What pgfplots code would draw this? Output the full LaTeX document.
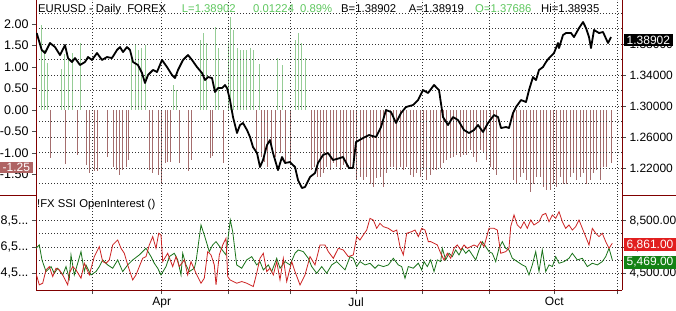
\documentclass[border=0pt]{standalone}
\usepackage{fontspec}
\setmainfont{Liberation Sans}
\usepackage{pgfplots}
\pgfplotsset{compat=1.18}
\definecolor{brd}{RGB}{128,0,0}
\definecolor{gbar}{RGB}{150,205,150}
\definecolor{rbar}{RGB}{165,110,110}
\definecolor{lred}{RGB}{205,35,35}
\definecolor{lgreen}{RGB}{25,115,25}
\definecolor{tgreen}{RGB}{95,200,95}
\definecolor{boxbrown}{RGB}{175,100,100}
\definecolor{boxred}{RGB}{225,30,30}
\definecolor{boxgreen}{RGB}{20,130,20}
\tikzset{gridl/.style={black!80, line width=0.8pt, dash pattern=on 0.8pt off 2.2pt}}
\newcommand{\tdots}{.{}.{}.}
\pgfplotsset{
  base/.style={scale only axis, width=586pt, xmin=36, xmax=622, anchor=south west,
    tick align=outside, major tick length=4pt, minor tick length=0pt,
    tick style={black!70, line width=0.6pt},
    ticklabel style={font=\fontsize{12}{14}\selectfont},
    /pgf/number format/assume math mode=true,
    scaled ticks=false}
}
\begin{document}
\begin{tikzpicture}
\path[use as bounding box, fill=white] (0pt,0pt) rectangle (676pt,310pt);

% ---- SSI bars (left scale) ----
\begin{axis}[base, at={(36pt,115pt)}, height=195pt,
  ymin=-1.977, ymax=2.558,
  axis line style={draw=none}, xtick=\empty,
  ytick={-1.5,-1,-0.5,0,0.5,1,1.5,2}, ytick pos=left,
  yticklabel style={font=\fontsize{12.5}{14}\selectfont,
    /pgf/number format/fixed, /pgf/number format/fixed zerofill, /pgf/number format/precision=2}]
\addplot[ycomb, gbar, line width=1pt] coordinates {
(37,1.78) (41.5,1.98) (44.5,1.40) (47.5,1.10) (61,0.95) (64,1.30) (68,1.20) (72.5,1.32) (80.5,1.55)
(131.7,1.20) (135,1.50) (138.3,1.40) (141.7,1.45) (145,1.50) (173.5,0.58) (176.7,0.47)
(200,1.63) (203.3,1.78) (206.7,1.55) (215.7,1.94) (218.5,1.45) (228.3,1.55) (230.7,2.17) (233.5,1.86)
(237,1.45) (240,1.40) (243.3,1.40) (246.7,1.40) (250,1.45) (253.3,1.40) (259.5,1.08) (277.5,1.20)
(282.3,1.05) (295.3,1.63) (298.3,1.78) (301.7,1.55) (305,1.20)};
\addplot[ycomb, rbar, line width=1pt] coordinates {
(50.5,-1.12) (65,-1.25) (77.3,-1.05) (86.7,-1.28) (89.3,-1.47) (94,-1.43) (97.5,-1.43) (107.3,-1.09)
(113.3,-1.32) (116,-1.40) (119.3,-1.51) (122.7,-1.40) (126,-1.32) (128.7,-1.16) (149.3,-1.40)
(152.7,-1.47) (158.3,-1.51) (161.7,-1.71) (165,-1.24) (167.3,-1.20) (170,-1.20) (179,-1.24)
(188.3,-1.43) (191,-1.16) (210,-1.12) (212.3,-1.08) (223.5,-1.24) (256.7,-0.93) (261,-1.09)
(264.3,-1.20) (267.7,-1.32) (271.7,-0.85) (275,-1.09) (280.5,-1.00) (285,-1.24) (290,-1.24)
(311,-1.40) (314.3,-1.32) (317.3,-1.55)
(320,-1.55) (323.3,-1.47) (326.7,-1.32) (330,-1.40) (333.3,-1.24) (336.7,-1.32) (340,-1.40)
(343.3,-1.28) (346.7,-1.32) (350,-1.32) (353.3,-1.32) (356.7,-1.63) (360,-1.55) (363.3,-1.63)
(366.7,-1.55) (370,-1.71) (373.3,-1.78) (376.7,-1.59) (380,-1.55) (383.3,-1.78) (386.7,-1.47)
(390,-1.32) (393.3,-1.32) (396.7,-1.40) (400,-1.32) (403.3,-1.40) (406.7,-1.32) (410,-1.51)
(413.3,-1.55) (416.7,-1.47) (420,-1.55) (423.3,-1.40) (426.7,-1.63) (430,-1.51) (433.3,-1.40)
(436.7,-1.40) (440,-1.36) (443.3,-1.24) (446.7,-1.16) (450,-1.12) (453.3,-1.09) (456.7,-1.05)
(460,-1.09) (463.3,-1.05) (466.7,-1.05) (470,-0.93) (473.3,-1.09) (476.7,-1.20) (480,-0.93)
(483.3,-1.00) (486.7,-1.16) (490,-1.32) (493.3,-1.40) (496.7,-1.51) (513.3,-1.63) (516.7,-1.71)
(520,-1.55) (523.3,-1.47) (526.7,-1.63) (530,-1.90) (533.3,-1.71) (536.7,-1.55) (540,-1.55)
(543.3,-1.78) (546.7,-1.86) (550,-1.86) (553.3,-1.71) (556.7,-1.78) (560,-1.55) (563.3,-1.71)
(566.7,-1.71) (570,-1.55) (573.3,-1.47) (576.7,-1.63) (580,-1.55) (583.3,-1.47) (586.7,-1.71)
(590,-1.63) (593.3,-1.47) (596.7,-1.40) (600,-1.63) (603.3,-1.32) (606.7,-1.32) (611.7,-1.24)};
\end{axis}

% ---- price (right scale) ----
\begin{axis}[base, at={(36pt,115pt)}, height=195pt,
  ymin=1.1852, ymax=1.4368,
  separate axis lines, x axis line style={draw=none}, y axis line style={brd, line width=0.9pt},
  xtick=\empty,
  ytick={1.22,1.26,1.30,1.34,1.38}, minor ytick={1.20,1.24,1.28,1.32,1.36,1.40,1.42},
  ytick pos=right, yticklabel pos=right,
  ymajorgrids, yminorgrids, major grid style={gridl}, minor grid style={gridl},
  yticklabel style={/pgf/number format/fixed, /pgf/number format/fixed zerofill, /pgf/number format/precision=5}]
\pgfplotsinvokeforeach{92.7,161.7,228.3,290,356,422.7,489.3,554.3,617.7}{
  \draw[gridl] (axis cs:#1,1.1852) -- (axis cs:#1,1.4368);
}
\addplot[black, line width=1.8pt, line join=round] coordinates {
(36.7,1.3942) (41.7,1.3723) (45,1.3684) (50,1.3813) (55,1.3761) (60,1.3658) (65,1.3787) (68,1.3619)
(72,1.3568) (75,1.3619) (80,1.3529) (85,1.3568) (88,1.3632) (92,1.3594) (97,1.3684) (102,1.3594)
(107,1.3632) (112,1.3619) (117,1.3723) (120,1.3761) (123,1.3697) (127,1.3761) (130,1.3723)
(133,1.3568) (138,1.3529) (142,1.3426) (145,1.3297) (148,1.3400) (153,1.3465) (157,1.3439)
(162,1.3594) (167,1.3503) (172,1.3400) (175,1.3361) (178,1.3465) (183,1.3594) (188,1.3658)
(192,1.3594) (197,1.3503) (202,1.3426) (205,1.3335) (208,1.3374) (212,1.3361) (215,1.3181)
(218,1.3232) (222,1.3232) (225,1.3271) (227,1.3232) (230,1.3077) (233,1.2858) (237,1.2652)
(240,1.2755) (243,1.2781) (247,1.2690) (250,1.2600) (253,1.2471) (257,1.2394) (260,1.2213)
(263,1.2303) (267,1.2497) (270,1.2561) (273,1.2394) (278,1.2174) (282,1.2342) (285,1.2265)
(290,1.2277) (295,1.2213) (298,1.2045) (302,1.1942) (305,1.1955) (310,1.2084) (315,1.2135)
(318,1.2265) (323,1.2368) (328,1.2394) (333,1.2303) (340,1.2329) (343,1.2342) (349,1.2200)
(353,1.2200) (356,1.2535) (363,1.2587) (369,1.2626) (376,1.2600) (381,1.2729) (386,1.2948)
(391,1.2923) (396,1.2781) (401,1.2910) (406,1.2987) (413,1.3013) (418,1.3077) (423,1.3206)
(428,1.3168) (434,1.3271) (439,1.3206) (443,1.2858) (448,1.2755) (453,1.2858) (458,1.2819)
(464,1.2690) (469,1.2652) (474,1.2690) (478,1.2755) (483,1.2665) (488,1.2781) (494,1.2884)
(498,1.2858) (501,1.2716) (506,1.2729) (509,1.2716) (513,1.2910) (516,1.2987) (521,1.3077)
(526,1.3052) (529,1.3206) (533,1.3374) (536,1.3335) (539,1.3465) (543,1.3503) (546,1.3568)
(549,1.3619) (554,1.3684) (558,1.3813) (559,1.3748) (563,1.3916) (566,1.3942) (571,1.3942)
(574,1.3890) (579,1.4006) (583,1.4084) (586,1.4006) (589,1.3890) (591,1.3748) (594,1.3981)
(599,1.3942) (603,1.3955) (608,1.3813) (611,1.3890)};
\end{axis}

% ---- open interest, left labels ----
\begin{axis}[base, at={(36pt,20pt)}, height=95pt,
  ymin=3230, ymax=10454,
  axis line style={draw=none}, xtick=\empty,
  ytick={4500,6500,8500}, yticklabels={{4,5\tdots},{6,5\tdots},{8,5\tdots}}, ytick pos=left,
  yticklabel style={font=\fontsize{12.5}{14}\selectfont}]
\addplot[draw=none] coordinates {(36,5000)};
\end{axis}

% ---- open interest ----
\begin{axis}[base, at={(36pt,20pt)}, height=95pt,
  ymin=3230, ymax=10454,
  axis x line*=bottom, axis y line*=box, axis line style={brd, line width=0.9pt},
  xtick={92.7,161.7,228.3,290,356,422.7,489.3,554.3,617.7},
  xticklabels={,Apr,,,Jul,,,Oct,}, xmajorgrids,
  ytick={4500,6500,8500}, minor ytick={5500,7500},
  ytick pos=right, yticklabel pos=right,
  ymajorgrids, yminorgrids, major grid style={gridl}, minor grid style={gridl},
  yticklabel style={/pgf/number format/fixed, /pgf/number format/fixed zerofill,
    /pgf/number format/precision=2, /pgf/number format/1000 sep={,}}]
\addplot[lgreen, line width=0.8pt] coordinates {
(36,6402) (39.3,6655) (42,5517) (46,4631) (51,5011) (54.3,4505) (57.7,4884) (62.7,4378) (66,5011)
(69.3,4100) (71,5896) (74.3,4378) (77.7,5264) (81,6149) (84.3,4631) (86,5137) (91,4378) (96,4631)
(99.3,5011) (102.7,5517) (107.7,5137) (112.7,4884) (117.7,5517) (122.7,4631) (127.7,5137)
(132.7,5517) (139.3,5896) (146,6402) (151,5770) (154.3,5264) (157.7,4884) (161,4378) (166,5011)
(169.3,5770) (174.3,6023) (177.7,5517) (181,4378) (182.7,6023) (186,5137) (189.3,4631) (194.3,4884)
(196,5390) (201,8173) (204.3,7414) (209.3,6149) (212.7,6655) (216,6908) (221,6402) (226,5896)
(230.3,8553) (232.7,7667) (236.7,5137) (241.7,4884) (246.7,5517) (251.7,5770) (256.7,5137)
(260,5390) (263.3,4757) (268.3,5137) (271.7,4631) (276.7,5643) (280,4884) (285,5390) (290,5137)
(295,6023) (298.3,6275) (303.3,6149) (308.3,5643) (311.7,5011) (316.7,4505) (321.7,5011)
(326.7,4505) (331.7,5137) (336.7,5390) (340,5137) (345,4757) (350,5770) (353.3,5643) (356.7,5011)
(360,5390) (365,5137) (370,5264) (375,4884) (378.3,5137) (383.3,5011) (388.3,5137) (393.3,5643)
(398.3,5137) (401.7,5011) (405,4125) (408.3,5011) (413.3,4884) (418.3,5264) (421.7,4757)
(424,5390) (427.3,5011) (430.7,5517) (434,4631) (437.3,5517) (440.7,5390) (442.3,6402) (445.7,5517)
(449,6023) (452.3,5770) (455.7,6275) (459,5896) (462.3,6402) (465.7,6023) (469,6275) (472.3,5896)
(475.7,5517) (479,6275) (482.3,6908) (485.7,6529) (489,6149) (492.3,6023) (495.7,5390) (499,6402)
(502.3,6908) (505.7,6402) (509,6275) (512.3,5643) (517.3,5390) (522.3,5137) (525.7,5011)
(529,4378) (532.3,5137) (535.7,6149) (539,4631) (542.3,6275) (545.7,4631) (549,5137) (552.3,5011)
(555.7,5770) (559,5264) (564,5390) (569,5643) (572.3,6023) (577.3,5517) (582.3,5643) (587.3,5011)
(592.3,5264) (597.3,5137) (602.3,5390) (605.7,5770) (609,6402) (612.3,5517)};
\addplot[lred, line width=0.8pt] coordinates {
(36,4505) (39.3,3619) (42.7,3745) (46,4758) (49.3,5011) (52.7,4252) (56,4884) (59.3,4758)
(62.7,4378) (67.7,3619) (69.3,4505) (72.7,5011) (76,4758) (81,4125) (84.3,5264) (89.3,4378)
(94.3,5770) (99.3,6529) (102.7,5390) (106,5264) (109.3,5517) (112.7,6655) (117.7,7035) (121,6402)
(124.3,6023) (127.7,5137) (132.7,3999) (136,4378) (139.3,5011) (142.7,5643) (146,5770) (149.3,6655)
(152.7,7288) (156,6402) (158.7,7541) (161,7414) (162.7,5390) (167.7,6023) (172.7,5011) (176,5770)
(179.3,5011) (184.3,5517) (187.7,4378) (191,5390) (196,4505) (201,3745) (204.3,4125) (207.7,6149)
(211,5896) (214.3,5137) (216,3619) (219.3,5896) (222.7,6655) (226,7161) (227.7,4252) (230,3999)
(233.3,3872) (236.7,3745) (241.7,3872) (246.7,3745) (253.3,3493) (256.7,4505) (260,5643)
(263.3,6023) (266.7,4631) (270,4884) (273.3,4378) (276.7,5390) (280,3999) (283.3,5643) (286.7,3872)
(291.7,5390) (295,4631) (300,3619) (305,4378) (310,5770) (315,5137) (320,6655) (325,6655)
(328.3,6149) (333.3,5643) (338.3,6402) (343.3,6275) (348.3,5770) (353.3,5896) (356.7,7287)
(360,7035) (363.3,7414) (366.7,7793) (370,8679) (373.3,8553) (376.7,7920) (380,8300) (383.3,8047)
(388.3,7920) (393.3,7667) (396.7,7793) (400,6529) (403.3,5896) (406.7,7540) (411.7,7667)
(415,7793) (418.3,7287) (421.7,7920) (425,7793) (428.3,6908) (430.7,6908) (434,6782) (437.3,6655)
(440.7,6023) (444,5517) (447.3,6023) (450.7,5643) (454,6402) (457.3,6655) (460.7,6275) (464,6655)
(467.3,6402) (470.7,6529) (474,6655) (477.3,6529) (480.7,6908) (484,6529) (489,7920) (494,7920)
(497.3,7793) (500.7,6023) (505.7,6149) (509,6402) (510.7,8047) (514,8932) (517.3,8173) (520.7,7920)
(524,8426) (527.3,7920) (530.7,8553) (534,8173) (539,8426) (542.3,8932) (545.7,9059) (549,8426)
(552.3,8932) (555.7,8679) (559,9185) (562.3,8426) (565.7,7920) (569,8173) (572.3,7793) (575.7,8047)
(579,8553) (582.3,7920) (585.7,7287) (589,6655) (592.3,7920) (595.7,7540) (599,7287) (602.3,7540)
(605.7,6908) (609,6402) (612.3,6782)};
\end{axis}

% ---- panel separators outside plot area ----
\draw[brd, line width=0.9pt] (0pt,115pt) -- (36pt,115pt);
\draw[brd, line width=0.9pt] (622pt,115pt) -- (676pt,115pt);

% ---- titles ----
\begin{scope}[every node/.style={anchor=base west, inner sep=0pt, font=\fontsize{11.3}{13}\selectfont}]
\node at (38pt,297.7pt) {EURUSD - Daily\ \ FOREX};
\node[text=tgreen] at (181.7pt,297.7pt) {L=1.38902};
\node[text=tgreen] at (253pt,297.7pt) {0.01224};
\node[text=tgreen] at (300pt,297.7pt) {0.89\%};
\node at (341pt,297.7pt) {B=1.38902};
\node at (408.7pt,297.7pt) {A=1.38919};
\node[text=tgreen] at (475pt,297.7pt) {O=1.37686};
\node at (541pt,297.7pt) {Hi=1.38935};
\node at (37pt,102.3pt) {!FX SSI OpenInterest ()};
\end{scope}

% ---- value boxes ----
\begin{scope}[every node/.style={anchor=west, text=white, inner xsep=2.5pt, inner ysep=1.5pt, font=\fontsize{12}{14}\selectfont}]
\node[fill=black] at (624pt,270pt) {1.38902};
\node[fill=boxred] at (624pt,65.3pt) {6,861.00};
\node[fill=boxgreen] at (624pt,47.5pt) {5,469.00};
\node[fill=boxbrown, minimum width=31pt, align=center] at (0pt,142.5pt) {-1.25};
\end{scope}
\end{tikzpicture}
\end{document}
